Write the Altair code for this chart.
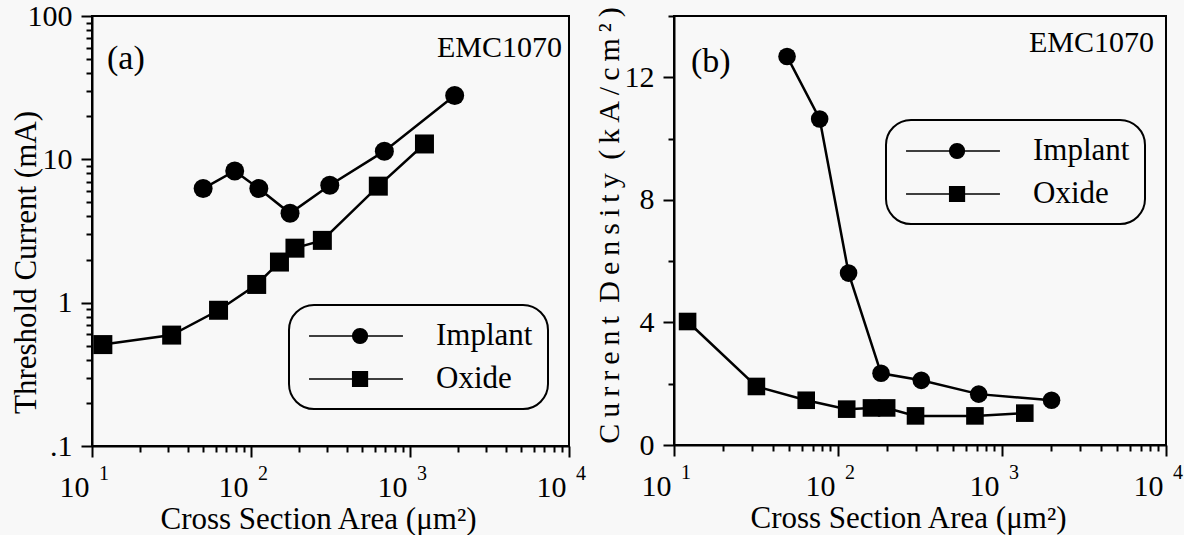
import altair as alt
import pandas as pd

F = "Liberation Serif"
BG = "#f8f8f8"

# ---- data ----
# panel (a): threshold current (mA) vs cross-section area (um^2)
area_a_implant = [50, 79, 112, 176, 313, 690, 1910]
curr_a_implant = [6.25, 8.3, 6.25, 4.2, 6.6, 11.4, 27.9]
area_a_oxide = [11.7, 31.7, 62.5, 108.6, 151, 189, 281, 632, 1233]
curr_a_oxide = [0.51, 0.594, 0.885, 1.34, 1.92, 2.4, 2.72, 6.5, 12.8]

# panel (b): current density (kA/cm^2) vs cross-section area (um^2)
area_b_implant = [48.9, 77.3, 116, 183, 322, 721, 2005]
dens_b_implant = [12.68, 10.64, 5.61, 2.34, 2.11, 1.66, 1.46]
area_b_oxide = [12.1, 31.8, 64, 113, 160, 198, 297, 684, 1377]
dens_b_oxide = [4.03, 1.91, 1.46, 1.17, 1.21, 1.21, 0.95, 0.95, 1.04]

series_names = ["Implant", "Oxide"]

# ---- ticks / labels ----
x_ticks = [k * 10 ** d for d in (1, 2, 3) for k in range(1, 10)] + [10000]
y_ticks_a = [round(k * 10.0 ** d, 6) for d in (-1, 0, 1) for k in range(1, 10)] + [100]
y_ticks_b = [0, 2, 4, 6, 8, 10, 12, 14]
x_decades = [10, 100, 1000, 10000]
x_exponents = ["1", "2", "3", "4"]

MAJ = "abs(log(datum.value)/LN10 - round(log(datum.value)/LN10)) < 0.001"

# legend symbols: line with marker (custom paths)
PATH_C = "M-0.73,0H5.53M3.16,0A0.49,0.49,0,1,1,2.18,0A0.49,0.49,0,1,1,3.16,0Z"
PATH_S = "M-0.73,0H5.53M2.18,-0.49H3.16V0.49H2.18Z"

XTITLE = "Cross Section Area (\u03bcm\u00b2)"
TS = "\u2009"
YTITLE_B = TS.join("Current") + " " + TS + TS.join("Density") + " " + TS + TS.join("(kA/cm\u00b2)")


def make_panel(area_i, val_i, area_o, val_o, yscale, ytitle, yvalues, ylabel_expr,
               ytick_test, w, h, xtitle_x, ytitle_x, ytitle_y, ytitle_size, tag, tag_pos,
               emc_pos, leg_x, leg_y, msize):
    df = pd.DataFrame({
        "area": area_i + area_o,
        "val": val_i + val_o,
        "series": [series_names[0]] * len(area_i) + [series_names[1]] * len(area_o),
    })
    xaxis = alt.Axis(
        values=x_ticks, title=XTITLE, labelExpr=f"{MAJ} ? '10' : ''",
        tickSize={"condition": {"test": MAJ, "value": 11}, "value": 6},
        labelAlign="right", labelBaseline="top", labelPadding=15, labelOffset=-3,
        labelOverlap=False, labelFlush=False, labelBound=False, grid=False,
        titleFontSize=31,
        titleX=xtitle_x, titleY=82, titleAlign="center", titleBaseline="alphabetic",
        titleAnchor="start",
    )
    yaxis = alt.Axis(
        values=yvalues, title=ytitle, labelExpr=ylabel_expr,
        tickSize={"condition": {"test": ytick_test, "value": 11}, "value": 6},
        labelPadding=9, labelOverlap=False, labelFlush=False, grid=False,
        titleFontSize=ytitle_size,
        titleX=ytitle_x, titleY=ytitle_y, titleAlign="center", titleBaseline="middle",
        titleAngle=270, titleAnchor="start",
    )
    xenc = alt.X("area:Q", scale=alt.Scale(type="log", domain=[10, 10000]), axis=xaxis)
    yenc = alt.Y("val:Q", scale=yscale, axis=yaxis)

    base = alt.Chart(df)
    lines = base.mark_line(color="black", strokeWidth=2.5).encode(
        x=xenc, y=yenc, detail="series:N"
    )
    circ = base.transform_filter(alt.datum.series == series_names[0]).mark_point(
        shape="circle", filled=True, color="black", size=msize, opacity=1
    ).encode(x=xenc, y=yenc)
    sq = base.transform_filter(alt.datum.series == series_names[1]).mark_point(
        shape="square", filled=True, color="black", size=msize, opacity=1
    ).encode(x=xenc, y=yenc)

    exp_df = pd.DataFrame({"area": x_decades, "exp": x_exponents})
    exps = alt.Chart(exp_df).mark_text(
        align="left", baseline="alphabetic", dx=7, font=F, fontSize=20, color="black"
    ).encode(x=xenc, y=alt.value(h + 33.5), text="exp:N")

    ann_df = pd.DataFrame({"t": [tag]})
    tag_txt = alt.Chart(ann_df).mark_text(
        align="left", baseline="alphabetic", font=F, fontSize=34, color="black"
    ).encode(x=alt.value(tag_pos[0]), y=alt.value(tag_pos[1]), text="t:N")
    emc_df = pd.DataFrame({"t": ["EMC1070"]})
    emc_txt = alt.Chart(emc_df).mark_text(
        align="right", baseline="alphabetic", font=F, fontSize=30, color="black"
    ).encode(x=alt.value(emc_pos[0]), y=alt.value(emc_pos[1]), text="t:N")

    leg = base.transform_filter("false").mark_point(
        filled=True, fill="black", stroke="black", strokeWidth=2.5, opacity=1
    ).encode(
        shape=alt.Shape(
            "series:N",
            scale=alt.Scale(domain=series_names, range=[PATH_C, PATH_S]),
            legend=alt.Legend(
                title=None, orient="none", legendX=leg_x, legendY=leg_y,
                direction="vertical", symbolSize=900, labelFont=F, labelFontSize=31,
                labelColor="black", padding=15, rowPadding=12, labelOffset=100,
                strokeColor="black", cornerRadius=25, fillColor=BG, symbolOpacity=1,
            ),
        )
    )
    return alt.layer(lines, circ, sq, exps, tag_txt, emc_txt, leg).properties(width=w, height=h)


left = make_panel(
    area_a_implant, curr_a_implant, area_a_oxide, curr_a_oxide,
    yscale=alt.Scale(type="log", domain=[0.1, 100]),
    ytitle="Threshold Current (mA)", yvalues=y_ticks_a,
    ylabel_expr=f"{MAJ} ? (datum.value < 0.5 ? '.1' : format(datum.value, 'd')) : ''",
    ytick_test=MAJ, w=477, h=430, xtitle_x=226, ytitle_x=-66, ytitle_y=246,
    ytitle_size=31, tag="(a)", tag_pos=(15, 53), emc_pos=(470, 41), leg_x=197,
    leg_y=289, msize=361,
)

right = make_panel(
    area_b_implant, dens_b_implant, area_b_oxide, dens_b_oxide,
    yscale=alt.Scale(domain=[0, 14]),
    ytitle=YTITLE_B, yvalues=y_ticks_b,
    ylabel_expr="datum.value % 4 == 0 ? format(datum.value, 'd') : ''",
    ytick_test="datum.value % 4 == 0", w=492, h=429, xtitle_x=234, ytitle_x=-65,
    ytitle_y=209, ytitle_size=30, tag="(b)", tag_pos=(17, 56), emc_pos=(480, 36),
    leg_x=212, leg_y=104, msize=310,
)

chart = alt.hconcat(left, right, spacing=5).resolve_scale(
    shape="independent"
).properties(
    background=BG, padding={"left": 8, "top": 0, "right": 0, "bottom": 0}
).configure_view(
    stroke="black", strokeWidth=2
).configure_axis(
    domainColor="black", domainWidth=2, tickColor="black", tickWidth=2,
    labelFont=F, titleFont=F, labelColor="black", titleColor="black",
    labelFontSize=30, titleFontSize=31, titleFontWeight="normal", grid=False,
).configure_legend(
    strokeWidth=2
)

chart.save("out.html", embed_options={"renderer": "svg", "actions": False})
